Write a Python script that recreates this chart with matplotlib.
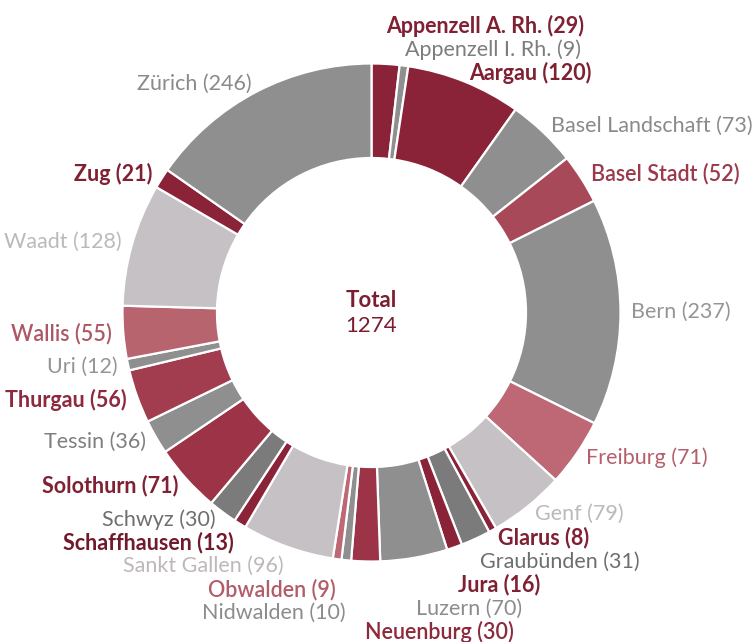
import matplotlib
matplotlib.use('Agg')
import matplotlib.pyplot as plt
import numpy as np

# ---- data ----
cantons = ["Appenzell A. Rh.", "Appenzell I. Rh.", "Aargau", "Basel Landschaft", "Basel Stadt",
           "Bern", "Freiburg", "Genf", "Glarus", "Graubünden", "Jura", "Luzern", "Neuenburg",
           "Nidwalden", "Obwalden", "Sankt Gallen", "Schaffhausen", "Schwyz", "Solothurn",
           "Tessin", "Thurgau", "Uri", "Wallis", "Waadt", "Zug", "Zürich"]
counts = [29, 9, 120, 73, 52, 237, 71, 79, 8, 31, 16, 70, 30, 10, 9, 96, 13, 30, 71, 36, 56, 12, 55, 128, 21, 246]
total_value = 1274
total_title = "Total"

# ---- styles ----
DARK = '#8a2337'
MED = '#9c3346'
BSR = '#a8495a'
PINK = '#bd6874'
GRAY = '#8f8f8f'
DGRAY = '#7b7b7b'
LGRAY = '#c5c1c5'

style = {
    "Appenzell A. Rh.": (DARK, '#7f2033', 'bold'),
    "Appenzell I. Rh.": (GRAY, '#7d7d7d', 'normal'),
    "Aargau": (DARK, '#7f2033', 'bold'),
    "Basel Landschaft": (GRAY, '#8a8a8a', 'normal'),
    "Basel Stadt": (BSR, '#9a3a4c', 'semibold'),
    "Bern": (GRAY, '#959595', 'normal'),
    "Freiburg": (PINK, '#b55f6b', 'normal'),
    "Genf": (LGRAY, '#bdb8bc', 'normal'),
    "Glarus": (DARK, '#7f2033', 'bold'),
    "Graubünden": (DGRAY, '#6e6e6e', 'normal'),
    "Jura": (DARK, '#7f2033', 'bold'),
    "Luzern": (GRAY, '#8c8c8c', 'normal'),
    "Neuenburg": (MED, '#8d2a3d', 'semibold'),
    "Nidwalden": (GRAY, '#8c8c8c', 'normal'),
    "Obwalden": (PINK, '#b25d69', 'semibold'),
    "Sankt Gallen": (LGRAY, '#bdb8bc', 'normal'),
    "Schaffhausen": (DARK, '#6f1b2c', 'bold'),
    "Schwyz": (DGRAY, '#6e6e6e', 'normal'),
    "Solothurn": (MED, '#7f2033', 'bold'),
    "Tessin": (GRAY, '#7f7f7f', 'normal'),
    "Thurgau": ('#a23d50', '#8d2a3d', 'bold'),
    "Uri": (GRAY, '#959595', 'normal'),
    "Wallis": ('#b8646f', '#ad5965', 'semibold'),
    "Waadt": (LGRAY, '#bdb8bc', 'normal'),
    "Zug": (DARK, '#7f2033', 'bold'),
    "Zürich": (GRAY, '#8a8a8a', 'normal'),
}

plt.rcParams['font.family'] = ['Lato', 'DejaVu Sans']
FS = 15.5

W, H = 753, 642
fig = plt.figure(figsize=(W / 100, H / 100), dpi=100)
ax = fig.add_axes([0, 0, 1, 1])

cx_s, cy_s = 371.5, 312.5        # centre in screen pixels
cx, cy = cx_s, H - cy_s
R = 249
ring = 94.5

wedges, _ = ax.pie(counts, colors=[style[c][0] for c in cantons], startangle=90,
                   counterclock=False, radius=R, center=(cx, cy),
                   wedgeprops=dict(width=ring, edgecolor='white', linewidth=1.6))
ax.set_xlim(0, W)
ax.set_ylim(0, H)
ax.set_aspect('equal')
ax.axis('off')

# ---- label placement from wedge angles ----
RX, RY = 260, 258
gap = 23.5
labels = []
for name, val, w in zip(cantons, counts, wedges):
    phi = np.deg2rad((w.theta1 + w.theta2) / 2)
    x = cx_s + RX * np.cos(phi)
    y = cy_s - RY * np.sin(phi)
    side = 'right' if np.cos(phi) > -0.05 else 'left'
    labels.append(dict(name=name, val=val, x=x, y=y, side=side))

for side in ('right', 'left'):
    grp = [l for l in labels if l['side'] == side]
    grp.sort(key=lambda l: l['y'])
    piv = int(np.argmin([abs(l['y'] - cy_s) for l in grp]))
    for i in range(piv + 1, len(grp)):
        grp[i]['y'] = max(grp[i]['y'], grp[i - 1]['y'] + gap)
    for i in range(piv - 1, -1, -1):
        grp[i]['y'] = min(grp[i]['y'], grp[i + 1]['y'] - gap)

for l in labels:
    _, tcol, wt = style[l['name']]
    ha = 'left' if l['side'] == 'right' else 'right'
    ax.text(l['x'], H - l['y'], f"{l['name']} ({l['val']})", ha=ha, va='center',
            fontsize=FS, color=tcol, fontweight=wt)

ax.text(cx, cy + 12, total_title, ha='center', va='center', fontsize=FS + 0.5,
        fontweight='bold', color='#7a1e30')
ax.text(cx, cy - 14, str(total_value), ha='center', va='center', fontsize=FS + 0.5,
        color='#7a1e30')

fig.savefig('out.png', dpi=100, facecolor='white')
